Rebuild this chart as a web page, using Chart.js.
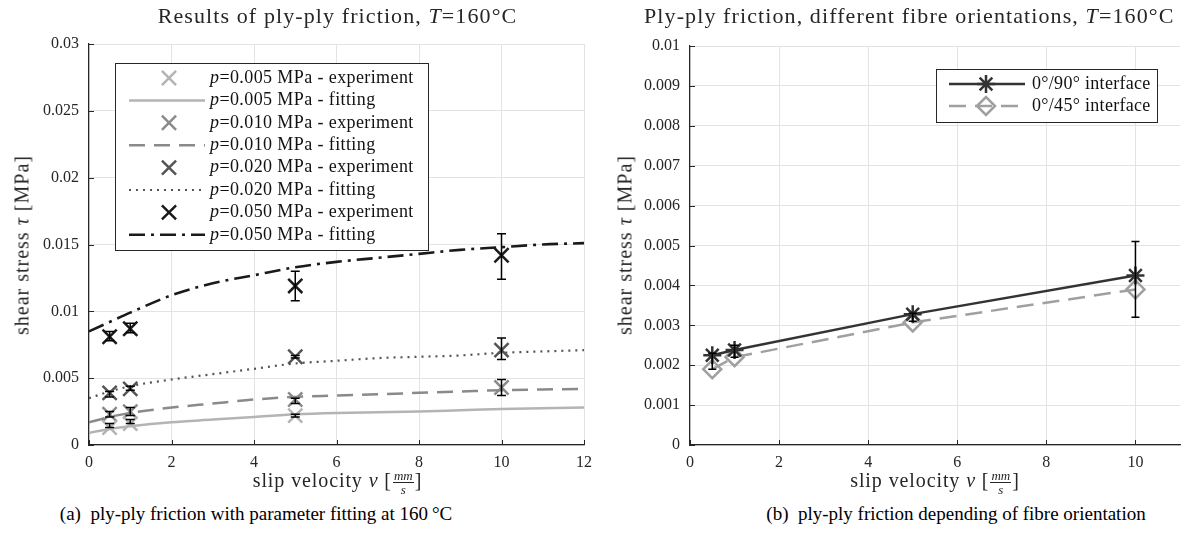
<!DOCTYPE html>
<html>
<head>
<meta charset="utf-8">
<title>ply-ply friction</title>
<script src="https://cdn.jsdelivr.net/npm/chart.js@4.4.1/dist/chart.umd.min.js"></script>
<style>
  body { margin: 0; background: #fff; font-family: 'Liberation Serif', 'Times New Roman', serif; color: #262626; }
  #page { position: relative; width: 1200px; height: 547px; overflow: hidden; }
  .box { position: absolute; top: 0; width: 600px; height: 480px; }
  .t { position: absolute; white-space: nowrap; text-align: center; }
  .title { font-size: 22px; letter-spacing: 1.1px; top: 3px; }
  .ylab { font-size: 20px; letter-spacing: 1px; transform: translate(-50%, -50%) rotate(-90deg); }
  .xlab { font-size: 20px; letter-spacing: 0.9px; top: 469px; }
  .frac { display: inline-block; vertical-align: middle; font-size: 13px; font-style: italic; line-height: 13px; text-align: center; margin: 0 1px; letter-spacing: 0; }
  .frac span { display: block; padding: 0 1px; }
  .frac span:first-child { border-bottom: 1px solid #262626; }
  .cap { font-size: 19px; color: #000; top: 503px; }
</style>
</head>
<body>
<div id="page">
  <div class="box" style="left:0"><canvas id="chartA"></canvas></div>
  <div class="box" style="left:600px"><canvas id="chartB"></canvas></div>

  <div class="t title" style="left:89px;width:497px">Results of ply-ply friction, <i>T</i>=160°C</div>
  <div class="t title" style="left:644px;width:530px">Ply-ply friction, different fibre orientations, <i>T</i>=160°C</div>

  <div class="t ylab" style="left:22px;top:245px">shear stress <i>τ</i> [MPa]</div>
  <div class="t ylab" style="left:625px;top:245px">shear stress <i>τ</i> [MPa]</div>

  <div class="t xlab" style="left:89px;width:497px">slip velocity <i>v</i> [<span class="frac"><span>mm</span><span>s</span></span>]</div>
  <div class="t xlab" style="left:690px;width:490px">slip velocity <i>v</i> [<span class="frac"><span>mm</span><span>s</span></span>]</div>

  <div class="t cap" style="left:0;width:512px">(a)&nbsp; ply-ply friction with parameter fitting at 160&#8201;°C</div>
  <div class="t cap" style="left:702px;width:508px">(b)&nbsp; ply-ply friction depending of fibre orientation</div>
</div>

<script>
(() => {
  const FONT = "'Liberation Serif', 'Times New Roman', serif";

  // --- (a) fitting curves
  const vFit   = [0, 0.5, 1, 2, 3, 4, 5, 6, 7, 8, 9, 10, 11, 12];
  const fit005 = [0.0009, 0.0012, 0.0014, 0.0017, 0.0019, 0.0021, 0.0023, 0.0024, 0.00245, 0.0025, 0.0026, 0.0027, 0.00275, 0.0028];
  const fit010 = [0.0017, 0.0021, 0.0024, 0.0028, 0.0031, 0.0034, 0.0036, 0.0037, 0.0038, 0.0039, 0.0040, 0.0041, 0.00415, 0.0042];
  const fit020 = [0.0035, 0.0040, 0.0044, 0.0049, 0.0053, 0.0057, 0.0061, 0.0063, 0.0065, 0.0066, 0.0067, 0.0069, 0.0070, 0.0071];
  const fit050 = [0.0085, 0.0092, 0.0099, 0.0112, 0.0121, 0.0127, 0.0133, 0.0137, 0.0140, 0.0143, 0.0146, 0.0148, 0.0150, 0.0151];

  // --- (a) experiments (mean, min, max)
  const vExp005 = [0.5, 1, 5];
  const exp005  = [0.0013, 0.0016, 0.0022];
  const lo005   = [0.0013, 0.0016, 0.0021];
  const hi005   = [0.0016, 0.0019, 0.0023];
  const vExp    = [0.5, 1, 5, 10];
  const exp010  = [0.0023, 0.0025, 0.0034, 0.0043];
  const lo010   = [0.0021, 0.0022, 0.0031, 0.0037];
  const hi010   = [0.0025, 0.0028, 0.0035, 0.0049];
  const exp020  = [0.0039, 0.0042, 0.0066, 0.0071];
  const lo020   = [0.0036, 0.0041, 0.0065, 0.0064];
  const hi020   = [0.0040, 0.0044, 0.0067, 0.0080];
  const exp050  = [0.0081, 0.0087, 0.0119, 0.0142];
  const lo050   = [0.0078, 0.0084, 0.0108, 0.0124];
  const hi050   = [0.0085, 0.0091, 0.0130, 0.0158];

  // --- (b) fibre orientations
  const vOri  = [0.5, 1, 5, 10];
  const t090  = [0.00225, 0.00238, 0.00328, 0.00425];
  const lo090 = [0.0019, 0.0022, 0.0031, 0.0032];
  const hi090 = [0.0023, 0.0025, 0.0033, 0.0051];
  const t045  = [0.0019, 0.0022, 0.00307, 0.0039];

  // ticks
  const xTicksA = [0, 2, 4, 6, 8, 10, 12];
  const yTicksA = [0, 0.005, 0.01, 0.015, 0.02, 0.025, 0.03];
  const xTicksB = [0, 2, 4, 6, 8, 10];
  const yTicksB = [0, 0.001, 0.002, 0.003, 0.004, 0.005, 0.006, 0.007, 0.008, 0.009, 0.01];

  const labelsA = ['p=0.005 MPa - experiment', 'p=0.005 MPa - fitting',
                   'p=0.010 MPa - experiment', 'p=0.010 MPa - fitting',
                   'p=0.020 MPa - experiment', 'p=0.020 MPa - fitting',
                   'p=0.050 MPa - experiment', 'p=0.050 MPa - fitting'];
  const labelsB = ['0°/90° interface', '0°/45° interface'];

  const pts = (xs, ys) => xs.map((v, i) => ({ x: v, y: ys[i] }));

  const fitDs = (label, ys, color, dash, w) => ({
    label, data: pts(vFit, ys), showLine: true, borderColor: color, borderWidth: w,
    borderDash: dash, pointRadius: 0, cubicInterpolationMode: 'monotone'
  });
  const expDs = (label, xs, ys, color) => ({
    label, data: pts(xs, ys), showLine: false, pointStyle: 'crossRot', pointRadius: 10,
    pointBorderWidth: 2.5, borderColor: color, pointBorderColor: color, pointBackgroundColor: 'transparent'
  });

  function drawMarker(ctx, style, x, y, r, color, lw) {
    ctx.save(); ctx.setLineDash([]); ctx.strokeStyle = color; ctx.lineWidth = lw; ctx.beginPath();
    const d = r * Math.SQRT1_2;
    if (style === 'crossRot' || style === 'star') {
      ctx.moveTo(x - d, y - d); ctx.lineTo(x + d, y + d);
      ctx.moveTo(x - d, y + d); ctx.lineTo(x + d, y - d);
    }
    if (style === 'star') {
      ctx.moveTo(x - r, y); ctx.lineTo(x + r, y);
      ctx.moveTo(x, y - r); ctx.lineTo(x, y + r);
    }
    if (style === 'rectRot') {
      ctx.moveTo(x - r, y); ctx.lineTo(x, y - r); ctx.lineTo(x + r, y); ctx.lineTo(x, y + r); ctx.closePath();
    }
    ctx.stroke(); ctx.restore();
  }

  // inward tick marks, MATLAB style
  const innerTicks = {
    id: 'innerTicks',
    beforeDatasetsDraw(chart) {
      const { ctx, chartArea: a, scales: { x, y } } = chart;
      ctx.save(); ctx.strokeStyle = '#262626'; ctx.lineWidth = 1; ctx.beginPath();
      x.ticks.forEach(t => { const p = Math.round(x.getPixelForValue(t.value)) + 0.5; ctx.moveTo(p, a.bottom); ctx.lineTo(p, a.bottom - 5); });
      y.ticks.forEach(t => { const p = Math.round(y.getPixelForValue(t.value)) + 0.5; ctx.moveTo(a.left, p); ctx.lineTo(a.left + 5, p); });
      ctx.stroke(); ctx.restore();
    }
  };

  const makeErrorBars = (sets, cap) => ({
    id: 'errorBars',
    afterDatasetsDraw(chart) {
      const { ctx, scales: { x, y } } = chart;
      ctx.save(); ctx.strokeStyle = '#000'; ctx.lineWidth = 1.5; ctx.beginPath();
      sets.forEach(s => s.v.forEach((v, i) => {
        const px = x.getPixelForValue(v), p1 = y.getPixelForValue(s.lo[i]), p2 = y.getPixelForValue(s.hi[i]);
        ctx.moveTo(px, p1); ctx.lineTo(px, p2);
        ctx.moveTo(px - cap, p1); ctx.lineTo(px + cap, p1);
        ctx.moveTo(px - cap, p2); ctx.lineTo(px + cap, p2);
      }));
      ctx.stroke(); ctx.restore();
    }
  });

  // legend box with italic "p"
  const makeLegend = (labels, geo) => ({
    id: 'legendBox',
    afterDraw(chart) {
      const { ctx, chartArea: a } = chart;
      const bx = geo.right != null ? a.right - geo.right - geo.w : a.left + geo.left;
      const by = a.top + geo.top;
      ctx.save();
      ctx.fillStyle = '#fff'; ctx.fillRect(bx, by, geo.w, geo.h);
      ctx.strokeStyle = '#262626'; ctx.lineWidth = 1;
      ctx.strokeRect(Math.round(bx) + 0.5, Math.round(by) + 0.5, geo.w, geo.h);
      if ('letterSpacing' in ctx) ctx.letterSpacing = geo.ls + 'px';
      labels.forEach((txt, i) => {
        const ds = chart.data.datasets[i];
        const cy = by + geo.row0 + i * geo.step;
        if (ds.showLine) {
          ctx.save(); ctx.strokeStyle = ds.borderColor; ctx.lineWidth = ds.borderWidth;
          ctx.setLineDash(ds.borderDash || []);
          ctx.beginPath(); ctx.moveTo(bx + geo.s0, cy); ctx.lineTo(bx + geo.s1, cy); ctx.stroke();
          ctx.restore();
        }
        if (ds.pointRadius > 0) {
          drawMarker(ctx, ds.pointStyle, bx + geo.m, cy, ds.pointRadius, ds.pointBorderColor, ds.pointBorderWidth);
        }
        ctx.fillStyle = '#111'; ctx.textBaseline = 'middle';
        let tx = bx + geo.tx, rest = txt;
        if (geo.italicP && txt[0] === 'p') {
          ctx.font = 'italic ' + geo.fs + 'px ' + FONT; ctx.fillText('p', tx, cy);
          tx += ctx.measureText('p').width; rest = txt.slice(1);
        }
        ctx.font = geo.fs + 'px ' + FONT; ctx.fillText(rest, tx, cy);
      });
      ctx.restore();
    }
  });

  const axes = (xMax, xTicks, yMax, yTicks) => ({
    x: {
      type: 'linear', min: 0, max: xMax,
      afterBuildTicks: s => { s.ticks = xTicks.map(v => ({ value: v })); },
      afterFit: s => { s.height = 30; },
      grid: { color: '#e3e3e3', drawTicks: false },
      border: { color: '#262626', width: 1.2 },
      ticks: { font: { family: FONT, size: 16 }, color: '#262626', padding: 8, maxRotation: 0, callback: v => String(v) }
    },
    y: {
      type: 'linear', min: 0, max: yMax,
      afterBuildTicks: s => { s.ticks = yTicks.map(v => ({ value: v })); },
      afterFit: s => { s.width = 50; },
      grid: { color: '#e3e3e3', drawTicks: false },
      border: { color: '#262626', width: 1.2 },
      ticks: { font: { family: FONT, size: 16 }, color: '#262626', padding: 10, callback: v => String(+v.toFixed(4)) }
    }
  });

  const common = {
    responsive: true, maintainAspectRatio: false, animation: false,
    plugins: { legend: { display: false }, tooltip: { enabled: false } }
  };

  // (a)
  new Chart(document.getElementById('chartA'), {
    type: 'scatter',
    data: {
      datasets: [
        expDs(labelsA[0], vExp005, exp005, '#b4b4b4'),
        fitDs(labelsA[1], fit005, '#b4b4b4', [], 2.5),
        expDs(labelsA[2], vExp, exp010, '#8a8a8a'),
        fitDs(labelsA[3], fit010, '#8a8a8a', [16, 9], 2.5),
        expDs(labelsA[4], vExp, exp020, '#555555'),
        fitDs(labelsA[5], fit020, '#555555', [2, 5], 2.2),
        expDs(labelsA[6], vExp, exp050, '#1a1a1a'),
        fitDs(labelsA[7], fit050, '#1a1a1a', [16, 6, 3, 6], 2.6)
      ]
    },
    options: Object.assign({}, common, {
      layout: { padding: { left: 39, top: 44, right: 14, bottom: 5 } },
      scales: axes(12, xTicksA, 0.03, yTicksA)
    }),
    plugins: [
      innerTicks,
      makeErrorBars([
        { v: vExp005, lo: lo005, hi: hi005 },
        { v: vExp, lo: lo010, hi: hi010 },
        { v: vExp, lo: lo020, hi: hi020 },
        { v: vExp, lo: lo050, hi: hi050 }
      ], 4.5),
      makeLegend(labelsA, { left: 26, top: 19, w: 313, h: 187, row0: 15, step: 22.4, s0: 14, s1: 90, m: 54, tx: 95, fs: 18, ls: 0.4, italicP: true })
    ]
  });

  // (b)
  new Chart(document.getElementById('chartB'), {
    type: 'scatter',
    data: {
      datasets: [
        { label: labelsB[0], data: pts(vOri, t090), showLine: true, borderColor: '#333333', borderWidth: 2.5,
          pointStyle: 'star', pointRadius: 9, pointBorderWidth: 2.5, pointBorderColor: '#333333', pointBackgroundColor: 'transparent' },
        { label: labelsB[1], data: pts(vOri, t045), showLine: true, borderColor: '#a0a0a0', borderWidth: 2.5, borderDash: [17, 9],
          pointStyle: 'rectRot', pointRadius: 9, pointBorderWidth: 2.5, pointBorderColor: '#a0a0a0', pointBackgroundColor: 'transparent' }
      ]
    },
    options: Object.assign({}, common, {
      layout: { padding: { left: 40, top: 46, right: 20, bottom: 5 } },
      scales: axes(11, xTicksB, 0.01, yTicksB)
    }),
    plugins: [
      innerTicks,
      makeErrorBars([{ v: vOri, lo: lo090, hi: hi090 }], 4),
      makeLegend(labelsB, { right: 23, top: 23, w: 221, h: 53, row0: 15, step: 22, s0: 13, s1: 89, m: 50, tx: 96, fs: 18, ls: 0.3, italicP: false })
    ]
  });
})();
</script>
</body>
</html>
